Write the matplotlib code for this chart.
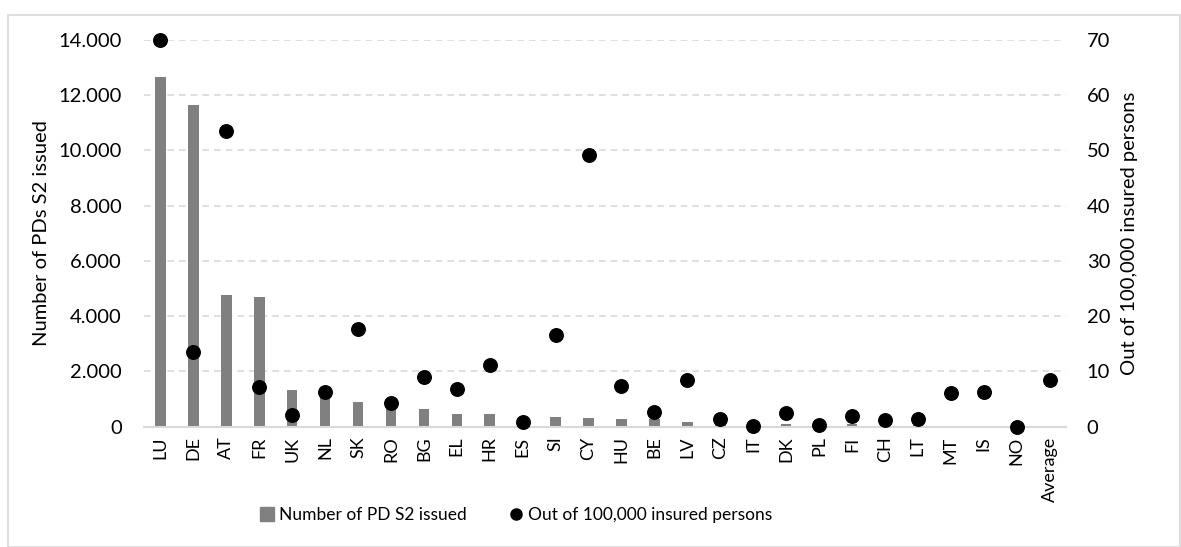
import matplotlib
matplotlib.use("Agg")
import matplotlib.pyplot as plt
from matplotlib.patches import Rectangle
from matplotlib.lines import Line2D
from matplotlib.ticker import FuncFormatter

plt.rcParams['font.family'] = ['Lato', 'DejaVu Sans']

countries = ["LU", "DE", "AT", "FR", "UK", "NL", "SK", "RO", "BG", "EL", "HR", "ES", "SI", "CY",
             "HU", "BE", "LV", "CZ", "IT", "DK", "PL", "FI", "CH", "LT", "MT", "IS", "NO", "Average"]
pd_issued = [12650, 11650, 4760, 4710, 1340, 1200, 900, 800, 630, 460, 450, 300, 350, 305,
             280, 270, 180, 100, 50, 100, 40, 100, 60, 50, 20, 10, 5, 0]
per_100k = [70.0, 13.5, 53.6, 7.1, 2.1, 6.2, 17.7, 4.3, 9.0, 6.8, 11.2, 0.8, 16.6, 49.2,
            7.3, 2.6, 8.4, 1.4, 0.2, 2.5, 0.3, 1.9, 1.2, 1.4, 6.1, 6.2, 0.0, 8.5]

bar_label = "Number of PD S2 issued"
dot_label = "Out of 100,000 insured persons"
left_title = "Number of PDs S2 issued"
right_title = "Out of 100,000 insured persons"

W, H = 1181, 547
fig = plt.figure(figsize=(W / 100, H / 100), dpi=100)
fig.patches.append(Rectangle((8 / W, 0), (W - 9) / W, (H - 15) / H, transform=fig.transFigure,
                             fill=False, edgecolor="#d9d9d9", linewidth=1.2))

ax = fig.add_axes([144 / W, (H - 426.7) / H, (1066 - 144) / W, (426.7 - 40) / H])
x = list(range(len(countries)))
ax.bar(x, pd_issued, width=0.32, color="#808080", zorder=2)
ax.set_xlim(-0.5, len(countries) - 0.5)
ax.set_ylim(0, 14000)
ax.set_yticks(range(0, 14001, 2000))
ax.yaxis.set_major_formatter(FuncFormatter(lambda v, p: f"{int(v):,}".replace(",", ".")))
ax.grid(axis="y", color="#d9d9d9", linestyle=(0, (4, 3)), linewidth=1.2, zorder=0)
for s in ["top", "right", "left"]:
    ax.spines[s].set_visible(False)
ax.spines["bottom"].set_color("#d9d9d9")
ax.spines["bottom"].set_linewidth(1.5)
ax.set_xticks(x)
ax.set_xticklabels(countries, rotation=90, fontsize=13)
ax.tick_params(axis="y", length=0, labelsize=14.5, colors="black", pad=16)
ax.tick_params(axis="x", length=0, pad=7, colors="black")
ax.set_ylabel(left_title, fontsize=14.5, labelpad=6)

ax2 = ax.twinx()
ax2.scatter(x, per_100k, s=95, color="black", zorder=3, clip_on=False)
ax2.set_ylim(0, 70)
ax2.set_yticks(range(0, 71, 10))
for s in ["top", "right", "left", "bottom"]:
    ax2.spines[s].set_visible(False)
ax2.tick_params(axis="y", length=0, labelsize=14.5, pad=15)
ax2.set_ylabel(right_title, fontsize=14.5, labelpad=8)

handles = [Rectangle((0, 0), 1, 1, color="#808080"),
           Line2D([], [], marker="o", color="black", linestyle="none", markersize=8)]
fig.legend(handles, [bar_label, dot_label], loc="center", bbox_to_anchor=(516 / W, (H - 515) / H),
           ncol=2, frameon=False, fontsize=12.5, handlelength=0.8, handletextpad=0.3,
           columnspacing=2.4, handleheight=0.8)

fig.savefig("out.png", dpi=100)
